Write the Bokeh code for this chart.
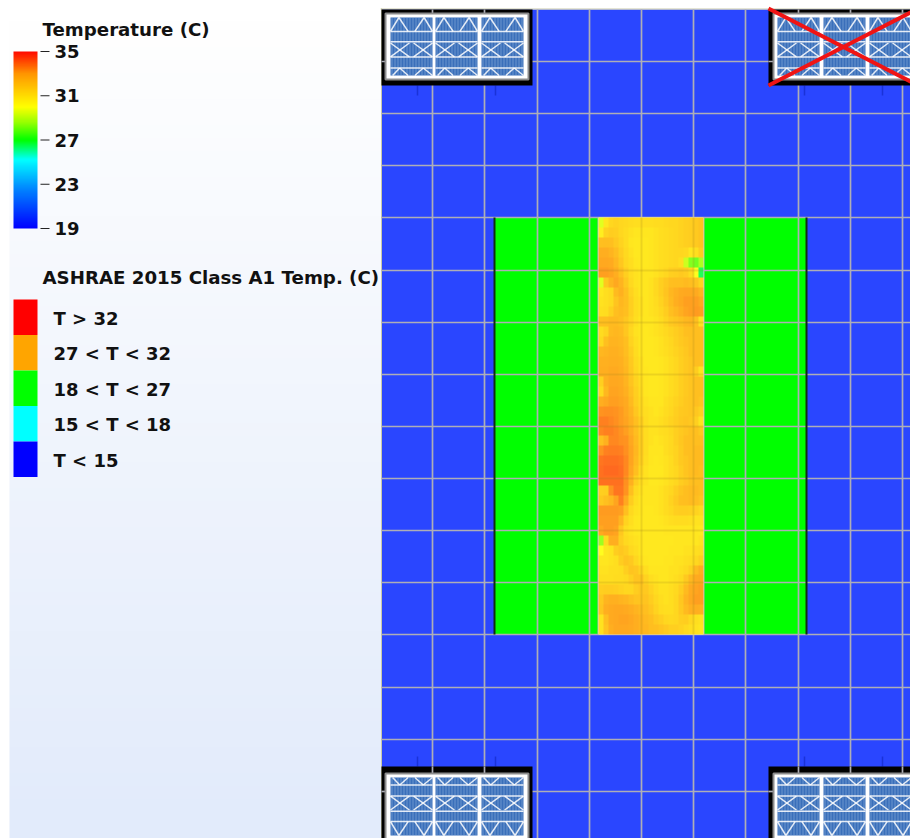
import numpy as np
from bokeh.plotting import figure
from bokeh.models import Range1d, LinearColorMapper, ColorBar, FixedTicker
from bokeh.core.properties import value
from bokeh.embed import file_html
from bokeh.resources import INLINE

# ---------- data ----------
bar_ticks = [19, 23, 27, 31, 35]
cmap_stops = [(19, (0, 0, 255)), (22.5, (0, 130, 255)), (25.2, (0, 255, 255)), (27, (0, 255, 0)),
              (28.6, (150, 255, 0)), (30, (255, 255, 0)), (33, (255, 150, 0)), (35, (255, 10, 0))]
class_labels = ["T > 32", "27 < T < 32", "18 < T < 27", "15 < T < 18", "T < 15"]
class_colors = ["#ff0000", "#ffa500", "#00ff00", "#00ffff", "#0000ff"]
grid_x = [432, 484, 537, 589, 641, 693, 745, 798, 850, 902]
grid_y = [61, 113, 165, 217, 270, 322, 374, 426, 478, 530, 582, 634, 687, 739, 791]
floor_color = "#2a46ff"
aisle_green = "#00ff00"

# inlet-aisle temperature: 42 rows top to bottom, 21 columns left to right
aisle_temps = [
    [29.5, 30.8, 31.3, 31.4, 31.3, 31.2, 31.1, 31.0, 31.0, 31.0, 31.0, 31.1, 31.1, 31.2, 31.3, 31.3, 31.4, 31.5, 31.6, 31.7, 31.9],
    [30.5, 31.4, 31.6, 31.5, 31.3, 31.1, 30.9, 30.8, 30.8, 30.8, 30.8, 30.9, 31.0, 31.1, 31.2, 31.3, 31.4, 31.5, 31.6, 31.7, 31.9],
    [32.0, 32.1, 32.0, 31.7, 31.4, 31.1, 30.8, 30.7, 30.7, 30.7, 30.8, 30.9, 31.0, 31.1, 31.2, 31.3, 31.4, 31.5, 31.6, 31.7, 31.9],
    [32.6, 32.6, 32.4, 32.1, 31.6, 31.2, 30.9, 30.7, 30.7, 30.7, 30.8, 30.9, 31.0, 31.1, 31.2, 31.3, 31.3, 31.2, 30.8, 31.0, 31.6],
    [32.8, 32.8, 32.7, 32.3, 31.8, 31.3, 31.0, 30.8, 30.7, 30.7, 30.8, 30.9, 31.0, 31.1, 31.2, 31.3, 31.0, 29.2, 28.2, 28.0, 28.8],
    [33.0, 33.0, 32.9, 32.6, 32.1, 31.5, 31.1, 30.9, 30.8, 30.8, 30.8, 30.9, 31.1, 31.3, 31.5, 31.6, 31.7, 31.6, 31.2, 30.0, 26.5],
    [29.5, 31.8, 32.4, 32.8, 32.4, 31.8, 31.2, 30.9, 30.8, 30.8, 30.9, 31.2, 31.5, 31.8, 32.0, 32.1, 32.1, 32.2, 32.1, 31.9, 31.4],
    [30.8, 31.0, 31.2, 32.2, 32.5, 32.0, 31.4, 31.0, 30.8, 30.8, 30.9, 31.2, 31.5, 31.9, 32.3, 32.5, 32.7, 32.8, 32.8, 32.7, 32.4],
    [30.9, 31.0, 31.2, 31.9, 32.3, 32.1, 31.5, 31.1, 30.9, 30.8, 30.9, 31.1, 31.4, 31.8, 32.2, 32.6, 32.8, 33.0, 33.0, 33.0, 32.8],
    [31.0, 31.1, 31.5, 32.0, 32.2, 32.0, 31.5, 31.1, 30.9, 30.8, 30.9, 31.0, 31.3, 31.6, 32.0, 32.3, 32.6, 32.9, 33.0, 33.1, 33.0],
    [32.0, 32.1, 32.2, 32.2, 32.1, 31.8, 31.4, 31.0, 30.8, 30.8, 30.8, 30.9, 31.1, 31.4, 31.7, 31.9, 32.1, 32.3, 32.4, 32.0, 30.9],
    [31.1, 31.4, 32.2, 32.3, 32.2, 31.8, 31.3, 30.9, 30.8, 30.7, 30.8, 30.9, 31.0, 31.2, 31.4, 31.6, 31.8, 32.0, 32.1, 32.1, 32.0],
    [31.3, 32.0, 32.4, 32.4, 32.3, 32.0, 31.4, 31.0, 30.8, 30.7, 30.7, 30.8, 30.9, 31.1, 31.3, 31.5, 31.7, 31.9, 32.0, 32.1, 32.1],
    [32.3, 32.4, 32.5, 32.5, 32.4, 32.1, 31.6, 31.1, 30.8, 30.7, 30.7, 30.8, 30.9, 31.0, 31.2, 31.4, 31.6, 31.8, 32.0, 32.1, 32.1],
    [32.5, 32.5, 32.6, 32.6, 32.5, 32.2, 31.7, 31.2, 30.9, 30.7, 30.7, 30.7, 30.8, 30.9, 31.1, 31.3, 31.5, 31.7, 31.9, 32.1, 32.0],
    [32.6, 32.6, 32.7, 32.7, 32.6, 32.3, 31.8, 31.3, 30.9, 30.8, 30.7, 30.7, 30.8, 30.9, 31.1, 31.3, 31.5, 31.7, 31.9, 31.6, 30.9],
    [31.5, 32.5, 32.8, 32.8, 32.7, 32.4, 31.9, 31.4, 31.0, 30.8, 30.7, 30.7, 30.8, 30.9, 31.1, 31.3, 31.5, 31.7, 31.9, 32.0, 32.0],
    [31.2, 32.3, 32.9, 32.9, 32.8, 32.5, 32.0, 31.5, 31.1, 30.8, 30.7, 30.7, 30.8, 30.9, 31.1, 31.3, 31.5, 31.7, 31.9, 32.0, 32.0],
    [32.6, 32.8, 33.0, 33.0, 32.9, 32.7, 32.2, 31.6, 31.2, 30.9, 30.8, 30.8, 30.8, 31.0, 31.2, 31.4, 31.6, 31.8, 31.9, 32.0, 31.9],
    [33.2, 33.3, 33.3, 33.2, 33.1, 32.8, 32.4, 31.8, 31.3, 31.0, 30.9, 30.8, 30.9, 31.1, 31.3, 31.5, 31.7, 31.8, 31.9, 31.8, 31.5],
    [33.5, 33.5, 33.4, 33.3, 33.1, 32.9, 32.5, 32.0, 31.5, 31.1, 30.9, 30.9, 31.0, 31.2, 31.4, 31.6, 31.8, 31.9, 31.8, 31.5, 30.9],
    [33.4, 33.5, 33.5, 33.4, 33.2, 33.0, 32.6, 32.1, 31.5, 31.1, 30.9, 30.9, 31.0, 31.1, 31.3, 31.5, 31.7, 31.9, 32.0, 32.0, 31.8],
    [32.0, 32.5, 33.4, 33.4, 33.3, 33.2, 32.8, 32.2, 31.6, 31.1, 30.9, 30.8, 30.9, 31.0, 31.2, 31.5, 31.8, 32.0, 32.1, 32.1, 32.1],
    [33.2, 33.5, 33.6, 33.6, 33.5, 33.3, 32.9, 32.3, 31.6, 31.1, 30.8, 30.8, 30.8, 31.0, 31.2, 31.4, 31.7, 32.0, 32.1, 32.2, 32.2],
    [33.7, 33.8, 33.8, 33.8, 33.7, 33.4, 32.9, 32.2, 31.5, 31.0, 30.8, 30.7, 30.8, 30.9, 31.1, 31.4, 31.7, 31.9, 32.1, 32.2, 32.2],
    [33.8, 33.9, 33.9, 33.9, 33.8, 33.4, 32.8, 32.0, 31.3, 30.9, 30.7, 30.7, 30.7, 30.9, 31.1, 31.3, 31.6, 31.9, 32.1, 32.2, 32.1],
    [33.8, 33.8, 33.8, 33.8, 33.8, 33.3, 32.5, 31.6, 31.1, 30.9, 30.7, 30.7, 30.8, 30.9, 31.1, 31.3, 31.6, 31.8, 32.0, 32.1, 32.1],
    [31.5, 31.6, 33.2, 33.7, 33.7, 33.2, 32.0, 31.2, 30.9, 30.8, 30.8, 30.8, 30.9, 31.1, 31.3, 31.6, 31.9, 32.1, 32.2, 32.2, 32.1],
    [31.8, 32.0, 32.3, 32.9, 33.5, 32.8, 31.6, 31.0, 30.8, 30.8, 30.8, 30.8, 30.9, 31.1, 31.4, 31.7, 32.0, 32.1, 32.2, 32.1, 31.9],
    [33.1, 33.1, 33.1, 33.1, 33.0, 32.0, 31.2, 30.9, 30.8, 30.7, 30.7, 30.8, 30.9, 31.1, 31.3, 31.5, 31.6, 31.6, 31.5, 31.4, 31.2],
    [33.0, 33.0, 33.0, 33.0, 32.4, 31.4, 31.0, 30.8, 30.7, 30.7, 30.7, 30.7, 30.8, 30.9, 31.0, 31.1, 31.1, 31.1, 31.0, 30.9, 30.9],
    [32.8, 33.0, 33.0, 32.9, 31.8, 31.1, 30.9, 30.8, 30.7, 30.7, 30.7, 30.7, 30.7, 30.8, 30.8, 30.8, 30.8, 30.8, 30.8, 30.8, 30.7],
    [28.5, 31.2, 32.6, 32.6, 31.6, 31.2, 31.0, 30.9, 30.8, 30.7, 30.7, 30.7, 30.7, 30.7, 30.7, 30.8, 30.8, 30.8, 30.8, 30.8, 30.9],
    [30.0, 30.8, 30.9, 31.6, 31.8, 31.6, 31.2, 31.0, 30.8, 30.7, 30.7, 30.7, 30.7, 30.7, 30.8, 30.8, 30.8, 30.9, 30.9, 31.0, 31.1],
    [30.8, 30.8, 30.9, 31.0, 31.6, 31.9, 31.7, 31.3, 30.9, 30.8, 30.7, 30.7, 30.7, 30.8, 30.8, 30.9, 30.9, 31.0, 31.1, 31.3, 31.5],
    [30.9, 30.9, 31.0, 31.0, 31.1, 31.5, 31.9, 31.8, 31.4, 31.0, 30.8, 30.8, 30.8, 30.8, 30.9, 30.9, 31.0, 31.2, 31.5, 32.2, 32.6],
    [31.0, 31.0, 31.0, 31.1, 31.1, 31.2, 31.5, 31.9, 31.9, 31.4, 31.0, 30.9, 30.8, 30.8, 30.9, 31.0, 31.2, 31.7, 32.3, 32.7, 32.8],
    [31.5, 31.6, 31.6, 31.5, 31.4, 31.3, 31.3, 31.6, 31.8, 31.7, 31.4, 31.1, 30.9, 30.9, 31.0, 31.2, 31.6, 32.2, 32.7, 32.9, 33.0],
    [31.8, 32.4, 32.5, 32.5, 32.4, 32.3, 32.1, 31.9, 31.9, 31.9, 31.6, 31.3, 31.0, 30.9, 31.0, 31.3, 31.8, 32.4, 32.8, 33.0, 33.0],
    [31.9, 32.6, 32.7, 32.8, 32.8, 32.7, 32.6, 32.4, 32.2, 32.0, 31.8, 31.4, 31.1, 31.0, 31.0, 31.3, 31.7, 32.2, 32.5, 32.6, 32.5],
    [30.9, 32.0, 32.7, 32.8, 32.9, 32.9, 32.8, 32.6, 32.4, 32.2, 32.0, 31.7, 31.5, 31.3, 31.2, 31.3, 31.5, 31.6, 31.3, 31.0, 30.9],
    [30.9, 31.9, 32.6, 32.8, 32.8, 32.8, 32.7, 32.6, 32.4, 32.3, 32.1, 32.0, 31.9, 31.7, 31.5, 31.5, 31.4, 31.2, 31.0, 30.9, 30.8],
]

# ---------- colour map ----------
lo, hi = bar_ticks[0], bar_ticks[-1]
palette = []
for k in range(256):
    t = lo + (hi - lo) * k / 255
    for (t0, c0), (t1, c1) in zip(cmap_stops, cmap_stops[1:]):
        if t0 <= t <= t1:
            f = (t - t0) / (t1 - t0)
            palette.append("#%02x%02x%02x" % tuple(int(round(a + (b - a) * f)) for a, b in zip(c0, c1)))
            break
mapper = LinearColorMapper(palette=palette, low=lo, high=hi)

# ---------- figure: ranges are the picture's own pixels ----------
W, H = 910, 838
p = figure(width=W, height=H, x_range=Range1d(0, W), y_range=Range1d(H, 0),
           toolbar_location=None, output_backend="svg", min_border=0,
           x_axis_location=None, y_axis_location=None, outline_line_color=None,
           background_fill_color="white", border_fill_color="white")
p.xgrid.visible = False
p.ygrid.visible = False

# left panel gradient
rows = 64
bg = np.zeros((rows, 1), dtype=np.uint32)
view = bg.view(np.uint8).reshape(rows, 1, 4)
for i in range(rows):
    f = i / (rows - 1)          # 0 = top of the panel
    view[i, 0] = (255 - 29 * f, 255 - 20 * f, 255 - 4 * f, 255)
p.image_rgba(image=[bg], x=9, y=8, dw=372, dh=H - 8)

# floor
FX0, FX1, FY0, FY1 = 381, W, 9, H
p.quad(left=FX0, right=FX1, top=FY0, bottom=FY1, fill_color=floor_color, line_color=None)
p.segment(x0=[FX0 - 1, FX0], y0=[8.5, 8], x1=[FX1, FX0], y1=[8.5, FY1], line_color="#c9c9a8", line_width=1)

# green cold zones
LEFT, A0, A1, RIGHT, AT, AB = 494, 598, 703, 806, 217, 634
p.quad(left=[LEFT, A1], right=[A0, RIGHT], top=AT, bottom=AB, fill_color=aisle_green, line_color=None)

# grid
GRID = "#aeaeb6"
GRID_W = 1.7
p.segment(x0=grid_x, x1=grid_x, y0=FY0, y1=FY1, line_color=GRID, line_width=GRID_W)
p.segment(x0=FX0, x1=FX1, y0=grid_y, y1=grid_y, line_color=GRID, line_width=GRID_W)
p.segment(x0=[LEFT, RIGHT], x1=[LEFT, RIGHT], y0=AT, y1=AB, line_color="#103010", line_width=2)
p.segment(x0=[A0, A1], x1=[A0, A1], y0=AT, y1=AB, line_color=GRID, line_width=2)

# heat field, slightly translucent over a white base as in the picture
field = np.array(aisle_temps, dtype=float)
p.quad(left=A0, right=A1, top=AT, bottom=AB, fill_color="white", line_color=None)
p.image(image=[field], x=A0, y=AT, dw=A1 - A0, dh=AB - AT, color_mapper=mapper, global_alpha=0.88)
inner_x = [g for g in grid_x if A0 < g < A1]
inner_y = [g for g in grid_y if AT < g < AB]
p.segment(x0=inner_x, x1=inner_x, y0=AT, y1=AB, line_color="#a08020", line_alpha=0.2, line_width=2)
p.segment(x0=A0, x1=A1, y0=inner_y, y1=inner_y, line_color="#a08020", line_alpha=0.2, line_width=2)

# small floor marks near the filters
marks = [417, 495, 804, 882]
p.segment(x0=marks, x1=marks, y0=85, y1=95, line_color="#1a32d8", line_width=1.5)
p.segment(x0=marks, x1=marks, y0=756, y1=766, line_color="#1a32d8", line_width=1.5)

# air filters
H_FRACS = [.24, .42, .68, .87]
DIAGS = [(0, .44, .45, .68), (0, .68, .45, .44), (.55, .44, 1, .68), (.55, .68, 1, .44),
         (0, .24, .2, 0), (.2, 0, .42, .24), (.58, .24, .8, 0), (.8, 0, 1, .24),
         (.05, 1, .22, .87), (.22, .87, .42, 1), (.58, 1, .78, .87), (.78, .87, 1, 1)]

def air_filter(x0, x1, y0, y1, gx0, gx1, gy0, gy1, panels, py0, py1, flip):
    p.quad(left=x0, right=x1, top=y0, bottom=y1, fill_color="black", line_color=None)
    gxs = [g for g in grid_x if x0 < g < x1]
    gys = [g for g in grid_y if y0 < g < y1]
    p.segment(x0=gxs, x1=gxs, y0=y0, y1=gy0, line_color=GRID, line_width=GRID_W)
    p.segment(x0=x0, x1=gx0, y0=gys, y1=gys, line_color=GRID, line_width=GRID_W)
    p.quad(left=gx0, right=gx1, top=gy0, bottom=gy1, fill_color="white", line_color="#8c8c8c", line_width=2)
    for a, b in panels:
        p.quad(left=a, right=b, top=py0, bottom=py1, fill_color="#3a6fba", line_color=None)
        xs = np.arange(a + 1.5, b, 3.0)
        p.segment(x0=xs, x1=xs, y0=py0, y1=py1, line_color="#9dbbe6", line_alpha=0.5, line_width=1)
        fy = (lambda v: py0 + (py1 - py0) * (1 - v if flip else v))
        p.segment(x0=a, x1=b, y0=[fy(v) for v in H_FRACS], y1=[fy(v) for v in H_FRACS],
                  line_color="white", line_alpha=0.85, line_width=1.5)
        p.segment(x0=[a + (b - a) * d[0] for d in DIAGS], y0=[fy(d[1]) for d in DIAGS],
                  x1=[a + (b - a) * d[2] for d in DIAGS], y1=[fy(d[3]) for d in DIAGS],
                  line_color="white", line_alpha=0.85, line_width=1.5)

left_panels = [(390, 432), (435, 477), (481, 523)]
right_panels = [(777, 819), (823, 865), (869, 911)]
air_filter(381, 532, 9, 85, 385, 528, 13, 79, left_panels, 17, 75, False)
air_filter(768, 920, 9, 85, 773, 920, 13, 79, right_panels, 17, 75, False)
air_filter(381, 532, 766, 845, 385, 528, 773, 845, left_panels, 777, 835, True)
air_filter(768, 920, 766, 845, 773, 920, 773, 845, right_panels, 777, 835, True)

# red cross on the failed unit
p.segment(x0=[768, 768], y0=[8, 85], x1=[918, 918], y1=[85, 8], line_color="#f01414", line_width=4)

# ---------- colour bar ----------
BX0, BX1, BT, BB = 13, 37, 51, 228
bar = ColorBar(color_mapper=mapper, location=(BX0, H - BB), width=BX1 - BX0, height=BB - BT,
               padding=0, margin=0, background_fill_alpha=0, bar_line_color=None,
               ticker=FixedTicker(ticks=bar_ticks), major_tick_line_color=None, minor_tick_line_color=None,
               major_tick_in=0, major_tick_out=0, label_standoff=17,
               major_label_text_font="DejaVu Sans", major_label_text_font_style="bold",
               major_label_text_font_size="18px", major_label_text_color="#111111")
p.add_layout(bar, "center")
tick_y = [BB - (BB - BT) * (t - lo) / (hi - lo) for t in bar_ticks]
p.segment(x0=40, x1=49, y0=tick_y, y1=tick_y, line_color="#222222", line_width=1)

# ---------- titles and class legend ----------
FONT = value("DejaVu Sans")
p.text(x=[42, 42], y=[29, 277], text=["Temperature (C)", "ASHRAE 2015 Class A1 Temp. (C)"],
       text_font=FONT, text_font_style="bold", text_font_size="18.2px",
       text_baseline="middle", text_color="#111111")
SW_TOP, SW_STEP = 299, 35.5
idx = np.arange(len(class_labels))
p.quad(left=BX0, right=BX1, top=SW_TOP + idx * SW_STEP, bottom=SW_TOP + (idx + 1) * SW_STEP,
       fill_color=class_colors, line_color=None)
p.text(x=53, y=SW_TOP + (idx + 0.5) * SW_STEP + 1, text=class_labels, text_font=FONT, text_font_style="bold",
       text_font_size="18px", text_baseline="middle", text_color="#111111")

open("out.html", "w").write(file_html(p, INLINE))
